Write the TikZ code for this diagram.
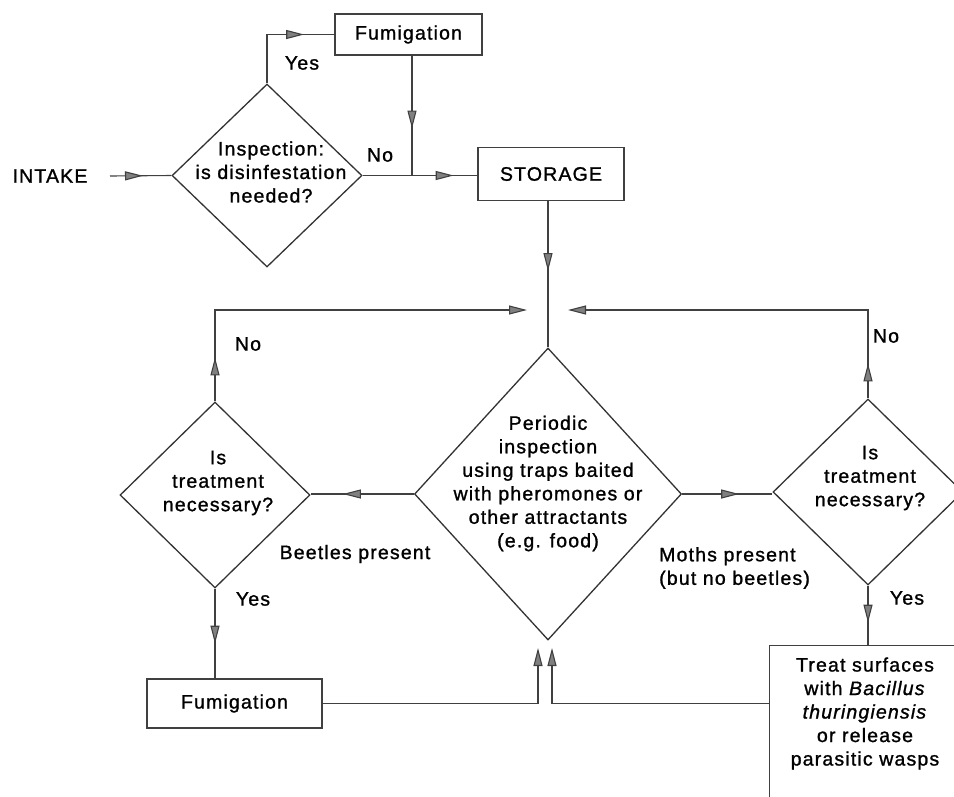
\documentclass[tikz,border=0pt]{standalone}
\usepackage{fontspec}
\setmainfont[LetterSpace=6,FakeBold=1.2]{Liberation Sans}
\usetikzlibrary{shapes.geometric,arrows.meta,decorations.markings}
\begin{document}
\begin{tikzpicture}[x=1pt,y=-1pt,
  every node/.style={font=\fontsize{19.5}{23.5}\selectfont, text=black},
  ln/.style={line width=1.1pt, draw=black!75},
  box/.style={draw=black!75, line width=1.2pt, rectangle, inner sep=0pt},
  dia/.style={draw=black!80, line width=1.3pt, diamond, inner sep=0pt},
  txt/.style={align=center, inner sep=0pt},
  tipA/.tip={Triangle[length=18pt,width=9pt,fill=black!50]},
  midarr/.style={postaction={decorate},decoration={markings,mark=at position #1 with {\arrow{tipA}}}},
  endarr/.style={-{tipA}},
]
\useasboundingbox (0,0) rectangle (954,796);
\clip (0,0) rectangle (954,796);

% nodes
\node (intake) at (50,176) {INTAKE};
\coordinate (in0) at (110,176);
\node[dia, minimum width=190pt, minimum height=183pt] (d1) at (267,175.5) {};
\node[txt] (t1) at (271,172) {Inspection:\\is disinfestation\\needed?};
\node[box, minimum width=147pt, minimum height=41pt] (fum1) at (408.5,34.5) {Fumigation};
\node[box, minimum width=146pt, minimum height=53pt] (storage) at (551,174) {STORAGE};

\node[dia, minimum width=190pt, minimum height=186pt] (dl) at (215,495) {};
\node[txt] (tl) at (218,483) {Is\\treatment\\necessary?};
\node[dia, minimum width=267pt, minimum height=292pt] (dc) at (548,494) {};
\node[txt] (tc) at (548,483.5) {Periodic\\inspection\\using traps baited\\with pheromones or\\other attractants\\(e.g. food)};
\node[dia, minimum width=190pt, minimum height=186pt] (dr) at (868,492) {};
\node[txt] (tr) at (870,478) {Is\\treatment\\necessary?};

\node[box, minimum width=175pt, minimum height=49pt] (fum2) at (234.5,703.5) {Fumigation};
\node[box, anchor=north west, minimum width=195pt, minimum height=180pt] (treat) at (769,645) {};
\node[txt] (ttreat) at (865,713.5) {Treat surfaces\\with \textit{Bacillus}\\\textit{thuringiensis}\\or release\\parasitic wasps};

% labels
\node (lyes1) at (302,63) {Yes};
\node (lno1) at (380,155) {No};
\node (lno2) at (248,344) {No};
\node (lno3) at (886,336) {No};
\node (lyes2) at (253,599) {Yes};
\node (lyes3) at (907,598) {Yes};
\node (lbeet) at (355,554) {Beetles present};
\node[align=left, anchor=west, inner sep=0pt] (lmoth) at (659,568) {Moths present\\(but no beetles)};

% connectors
\draw[ln, midarr=33pt] (in0) -- (d1.west);
\draw[ln, midarr=86pt] (d1.north) |- (fum1.west);
\draw[ln, midarr=73pt] ([xshift=3.5pt]fum1.south) -- ([xshift=3.5pt]fum1.south |- d1.east);
\draw[ln, midarr=91pt] (d1.east) -- (d1.east -| storage.west);
\draw[ln, midarr=70pt] (dc.north |- storage.south) -- (dc.north);

\coordinate (jl) at (527,310);
\coordinate (jr) at (568,310);
\draw[ln, midarr=44pt, endarr] (dl.north) |- (jl);
\draw[ln, midarr=35pt, endarr] (dr.north) |- (jr);

\draw[ln, midarr=71pt] (dc.west) -- (dc.west -| dl.east);
\draw[ln, midarr=57pt] (dc.east) -- (dc.east -| dr.west);
\draw[ln, midarr=55pt] (dl.south) -- (dl.south |- fum2.north);
\draw[ln, midarr=37pt] (dr.south) -- (dr.south |- treat.north);

\coordinate (b1) at (538,648);
\coordinate (b2) at (552,648);
\draw[ln, endarr] (fum2.east) -| (b1);
\draw[ln, endarr] (treat.north west |- fum2.east) -| (b2);
\end{tikzpicture}
\end{document}
